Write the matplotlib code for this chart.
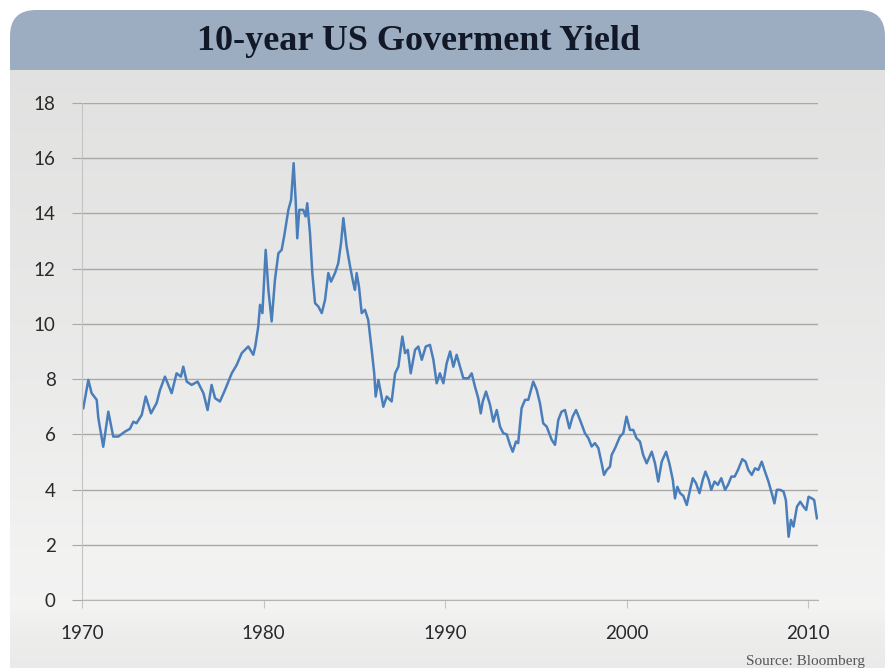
import numpy as np
import matplotlib
matplotlib.use("Agg")
from matplotlib import pyplot as plt
from matplotlib.patches import FancyBboxPatch

# values (year, yield in %)
years = [
    1970.07, 1970.35, 1970.53, 1970.81, 1970.90, 1971.17, 1971.45, 1971.72,
    1972.00, 1972.37, 1972.64, 1972.83, 1973.00, 1973.29, 1973.51, 1973.80,
    1974.11, 1974.30, 1974.57, 1974.94, 1975.21, 1975.45, 1975.58, 1975.77,
    1976.04, 1976.37, 1976.69, 1976.92, 1977.14, 1977.33, 1977.60, 1977.88,
    1978.25, 1978.52, 1978.80, 1979.16, 1979.44, 1979.55, 1979.71, 1979.81,
    1979.94, 1980.12, 1980.27, 1980.45, 1980.63, 1980.82, 1981.00, 1981.15,
    1981.28, 1981.37, 1981.52, 1981.66, 1981.77, 1981.86, 1981.97, 1982.19,
    1982.32, 1982.41, 1982.56, 1982.69, 1982.84, 1983.02, 1983.21, 1983.39,
    1983.57, 1983.72, 1983.94, 1984.12, 1984.27, 1984.40, 1984.58, 1984.77,
    1984.95, 1985.04, 1985.13, 1985.26, 1985.41, 1985.59, 1985.77, 1985.96,
    1986.10, 1986.18, 1986.33, 1986.47, 1986.60, 1986.79, 1987.06, 1987.25,
    1987.43, 1987.65, 1987.80, 1987.95, 1988.11, 1988.35, 1988.53, 1988.72,
    1988.94, 1989.17, 1989.36, 1989.54, 1989.72, 1989.91, 1990.09, 1990.28,
    1990.46, 1990.64, 1990.83, 1991.01, 1991.29, 1991.47, 1991.65, 1991.83,
    1991.97, 1992.08, 1992.26, 1992.48, 1992.66, 1992.85, 1993.03, 1993.21,
    1993.40, 1993.58, 1993.73, 1993.91, 1994.03, 1994.22, 1994.41, 1994.59,
    1994.86, 1995.05, 1995.23, 1995.41, 1995.60, 1995.88, 1996.06, 1996.24,
    1996.42, 1996.61, 1996.85, 1997.03, 1997.22, 1997.44, 1997.71, 1997.90,
    1998.08, 1998.26, 1998.45, 1998.63, 1998.76, 1998.91, 1999.09, 1999.18,
    1999.37, 1999.64, 1999.82, 2000.00, 2000.19, 2000.37, 2000.55, 2000.74,
    2000.92, 2001.11, 2001.39, 2001.57, 2001.75, 2001.94, 2002.18, 2002.36,
    2002.55, 2002.67, 2002.80, 2002.95, 2003.13, 2003.32, 2003.50, 2003.65,
    2003.83, 2004.02, 2004.20, 2004.35, 2004.53, 2004.67, 2004.85, 2005.03,
    2005.22, 2005.43, 2005.59, 2005.78, 2005.96, 2006.14, 2006.38, 2006.56,
    2006.71, 2006.90, 2007.08, 2007.26, 2007.45, 2007.63, 2007.82, 2008.00,
    2008.15, 2008.28, 2008.46, 2008.65, 2008.78, 2008.93, 2009.06, 2009.20,
    2009.39, 2009.57, 2009.75, 2009.90, 2010.03, 2010.21, 2010.34, 2010.49,
]
yields = [
    6.95, 7.97, 7.49, 7.25, 6.59, 5.55, 6.82, 5.92,
    5.92, 6.10, 6.20, 6.46, 6.40, 6.70, 7.37, 6.76,
    7.13, 7.61, 8.09, 7.49, 8.21, 8.09, 8.45, 7.91,
    7.79, 7.91, 7.49, 6.88, 7.79, 7.31, 7.19, 7.61,
    8.21, 8.51, 8.94, 9.18, 8.88, 9.20, 9.90, 10.69,
    10.39, 12.68, 11.23, 10.09, 11.59, 12.56, 12.68, 13.22,
    13.77, 14.13, 14.49, 15.82, 14.49, 13.10, 14.13, 14.13,
    13.89, 14.37, 13.29, 11.84, 10.75, 10.63, 10.39, 10.87,
    11.84, 11.53, 11.84, 12.20, 12.92, 13.83, 12.80, 12.08,
    11.47, 11.23, 11.84, 11.35, 10.39, 10.51, 10.14, 9.06,
    8.21, 7.37, 7.97, 7.49, 7.00, 7.37, 7.19, 8.21,
    8.45, 9.54, 8.94, 9.06, 8.21, 9.06, 9.18, 8.70,
    9.18, 9.24, 8.70, 7.85, 8.21, 7.85, 8.57, 9.00,
    8.45, 8.88, 8.45, 8.03, 8.03, 8.21, 7.73, 7.31,
    6.76, 7.19, 7.55, 7.07, 6.46, 6.88, 6.28, 6.04,
    6.00, 5.62, 5.37, 5.74, 5.68, 6.95, 7.25, 7.25,
    7.91, 7.61, 7.13, 6.40, 6.28, 5.80, 5.62, 6.52,
    6.82, 6.88, 6.22, 6.64, 6.88, 6.52, 6.04, 5.86,
    5.56, 5.68, 5.50, 4.95, 4.53, 4.71, 4.83, 5.25,
    5.50, 5.92, 6.04, 6.64, 6.16, 6.16, 5.86, 5.74,
    5.25, 4.95, 5.37, 4.95, 4.29, 5.01, 5.37, 4.95,
    4.35, 3.68, 4.10, 3.87, 3.77, 3.44, 3.99, 4.41,
    4.23, 3.87, 4.35, 4.65, 4.35, 3.99, 4.29, 4.17,
    4.41, 3.99, 4.17, 4.47, 4.47, 4.71, 5.10, 5.01,
    4.71, 4.53, 4.77, 4.71, 5.01, 4.65, 4.29, 3.87,
    3.50, 3.99, 3.99, 3.93, 3.62, 2.29, 2.90, 2.66,
    3.38, 3.56, 3.38, 3.26, 3.74, 3.68, 3.62, 2.96,
]
x_ticks = [1970, 1980, 1990, 2000, 2010]
y_ticks = [0, 2, 4, 6, 8, 10, 12, 14, 16, 18]

W, H = 893, 670
fig = plt.figure(figsize=(W / 100, H / 100), dpi=100)
fig.patch.set_facecolor("white")

# background panel in pixel coordinates
bg = fig.add_axes([0, 0, 1, 1], zorder=0)
bg.set_xlim(0, W)
bg.set_ylim(H, 0)
bg.axis("off")

header = FancyBboxPatch((10, 10), 875, 90, boxstyle="round,pad=0,rounding_size=26",
                        facecolor="#9cadc1", edgecolor="none")
bg.add_patch(header)

shade = np.array([0.0, 0.25, 0.55, 0.8, 0.9, 0.95, 1.0])
tone = np.array([0.890, 0.905, 0.930, 0.955, 0.960, 0.935, 0.925])
rows = np.interp(np.linspace(0, 1, 300), shade, tone)
grad = np.repeat(rows[:, None], 2, axis=1)
bg.imshow(np.dstack([grad - 0.004, grad - 0.006, grad - 0.008]), extent=[10, 885, 668, 70],
          aspect="auto", interpolation="bilinear", zorder=2)
bg.set_xlim(0, W)
bg.set_ylim(H, 0)

bg.text(419, 42, "10-year US Goverment Yield", ha="center", va="center",
        fontsize=26, fontweight="bold", family="Liberation Serif", color="#111827", zorder=3)
bg.text(865, 661, "Source: Bloomberg", ha="right", va="center",
        fontsize=11, family="Liberation Serif", color="#555555", zorder=3)

# chart
ax = fig.add_axes([82 / W, 1 - 600 / H, (818 - 82) / W, (600 - 103) / H], zorder=1)
ax.patch.set_alpha(0)
ax.plot(years, yields, color="#4a7ebb", lw=1.8, solid_joinstyle="round")

ax.set_xlim(1970, 2010.55)
ax.set_ylim(0, 18)
ax.set_xticks(x_ticks)
ax.set_yticks(y_ticks)
ax.grid(axis="y", color="#a8a8a8", lw=1)
ax.set_axisbelow(True)

for s in ["top", "right"]:
    ax.spines[s].set_visible(False)
ax.spines["left"].set_color("#c4c4c4")
ax.spines["bottom"].set_color("#b4b4b4")
ax.tick_params(axis="y", length=7, color="#a8a8a8", labelsize=13.5, labelcolor="#2a2a2a", pad=12)
ax.tick_params(axis="x", length=6, color="#c4c4c4", labelsize=13.5, labelcolor="#2a2a2a", pad=12)
for lab in ax.get_xticklabels() + ax.get_yticklabels():
    lab.set_family("Lato")

fig.savefig("out.png", dpi=100)
